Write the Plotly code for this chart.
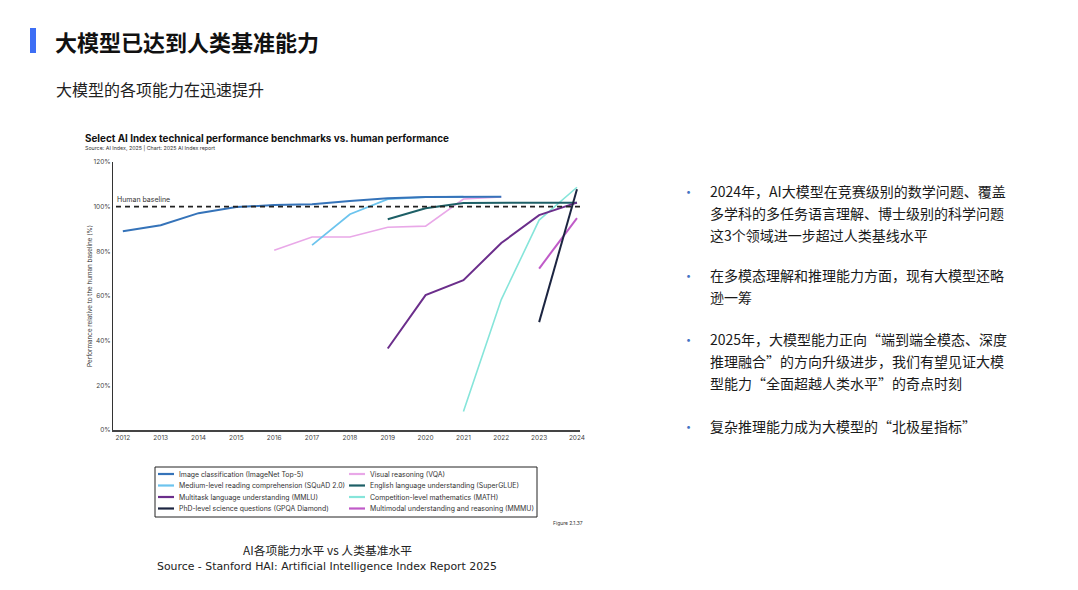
import plotly.graph_objects as go

# benchmark values (% of human baseline)
imagenet_x = [2012, 2013, 2014, 2015, 2016, 2017, 2018, 2019, 2020, 2021, 2022]
imagenet_y = [89.0, 91.7, 97.1, 99.8, 100.7, 101.1, 102.5, 103.8, 104.3, 104.4, 104.4]

squad_x = [2017, 2018, 2019, 2020, 2021]
squad_y = [82.8, 96.6, 103.4, 104.3, 104.5]

vqa_x = [2016, 2017, 2018, 2019, 2020, 2021, 2022]
vqa_y = [80.5, 86.4, 86.4, 90.8, 91.3, 103.4, 104.3]

superglue_x = [2019, 2020, 2021, 2022, 2023, 2024]
superglue_y = [94.4, 99.3, 101.6, 101.8, 101.8, 101.8]

mmlu_x = [2019, 2020, 2021, 2022, 2023, 2024]
mmlu_y = [36.5, 60.4, 67.1, 83.7, 96.2, 101.8]

math_x = [2021, 2022, 2023, 2024]
math_y = [8.3, 58.4, 94.0, 108.7]

gpqa_x = [2023, 2024]
gpqa_y = [48.3, 107.8]

mmmu_x = [2023, 2024]
mmmu_y = [72.3, 94.9]

human_baseline = 100
years = [2012, 2013, 2014, 2015, 2016, 2017, 2018, 2019, 2020, 2021, 2022, 2023, 2024]

series = [
    ("Image classification (ImageNet Top-5)", imagenet_x, imagenet_y, "#3573B9", 2),
    ("Medium-level reading comprehension (SQuAD 2.0)", squad_x, squad_y, "#6CC4EE", 1.8),
    ("Multitask language understanding (MMLU)", mmlu_x, mmlu_y, "#6B2E8B", 2),
    ("PhD-level science questions (GPQA Diamond)", gpqa_x, gpqa_y, "#1C2541", 2),
    ("Visual reasoning (VQA)", vqa_x, vqa_y, "#E9A8E8", 1.6),
    ("English language understanding (SuperGLUE)", superglue_x, superglue_y, "#1D5F66", 2),
    ("Competition-level mathematics (MATH)", math_x, math_y, "#86E5DA", 1.6),
    ("Multimodal understanding and reasoning (MMMU)", mmmu_x, mmmu_y, "#C05BC8", 2),
]

bullets = [
    ["2024年，AI大模型在竞赛级别的数学问题、覆盖",
     "多学科的多任务语言理解、博士级别的科学问题",
     "这3个领域进一步超过人类基线水平"],
    ["在多模态理解和推理能力方面，现有大模型还略",
     "逊一筹"],
    ["2025年，大模型能力正向“端到端全模态、深度",
     "推理融合”的方向升级进步，我们有望见证大模",
     "型能力“全面超越人类水平”的奇点时刻"],
    ["复杂推理能力成为大模型的“北极星指标”"],
]
bullet_top = [191, 275, 339, 426]

# page geometry (page pixels): plot area at x 113..580, y 162..430
# the html body adds an 8px margin, so everything is pulled back by OFF
OFF = 8
W, H = 1078, 590
L, T = 113 - OFF, 162 - OFF
R = W - (580 - OFF)
B = H - (430 - OFF)


def px(x):
    return (x - OFF - L) / (W - L - R)


def py(y):
    return (H - B - (y - OFF)) / (H - T - B)


CJK = "Noto Sans CJK SC"
LAT = "Inter"

fig = go.Figure()

# draw order so the darker lines sit on top
for idx in [4, 1, 0, 6, 5, 2, 7, 3]:
    name, xs, ys, col, w = series[idx]
    fig.add_trace(go.Scatter(x=xs, y=ys, mode="lines", name=name,
                             line=dict(color=col, width=w),
                             showlegend=False, hoverinfo="skip"))

shapes = []
annos = []

# human baseline
shapes.append(dict(type="line", xref="paper", yref="y", x0=px(116), x1=1, y0=human_baseline,
                   y1=human_baseline, line=dict(color="#222", width=1.6, dash="5px,4px")))
annos.append(dict(x=2011.8, y=human_baseline, xref="x", yref="y", text="Human baseline",
                  showarrow=False, xanchor="left", yanchor="bottom", yshift=1,
                  font=dict(family=LAT, size=7, color="#333")))

# slide header
shapes.append(dict(type="rect", xref="paper", yref="paper", x0=px(30), x1=px(36),
                   y0=py(53), y1=py(28), fillcolor="#3D6EF5", line_width=0))
annos.append(dict(x=px(53), y=py(41), text="<b>大模型已达到人类基准能力</b>",
                  font=dict(family=CJK, size=22, color="#111")))
annos.append(dict(x=px(54), y=py(89), text="大模型的各项能力在迅速提升",
                  font=dict(family=CJK, size=16, color="#222")))

# chart heading
annos.append(dict(x=px(83), y=py(138),
                  text="<b>Select AI Index technical performance benchmarks vs. human performance</b>",
                  font=dict(family=LAT, size=9.9, color="#111")))
annos.append(dict(x=px(83), y=py(148), text="Source: AI Index, 2025 | Chart: 2025 AI Index report",
                  font=dict(family=LAT, size=5.3, color="#333")))
annos.append(dict(x=px(90), y=py(296), text="Performance relative to the human baseline (%)",
                  textangle=-90, xanchor="center",
                  font=dict(family=LAT, size=6.3, color="#333")))
annos.append(dict(x=px(585), y=py(523), text="Figure 2.1.37", xanchor="right",
                  font=dict(family=LAT, size=5, color="#333")))

# legend box, drawn by hand for the tight row spacing
shapes.append(dict(type="rect", xref="paper", yref="paper", x0=px(155), x1=px(537),
                   y0=py(517), y1=py(467), line=dict(color="#222", width=1)))
row_y = [474, 485.5, 497, 508.5]
for i, (name, xs, ys, col, w) in enumerate(series):
    cx = 158 if i < 4 else 349
    ry = row_y[i % 4]
    shapes.append(dict(type="line", xref="paper", yref="paper", x0=px(cx), x1=px(cx + 16),
                       y0=py(ry), y1=py(ry), line=dict(color=col, width=2.2)))
    annos.append(dict(x=px(cx + 19), y=py(ry), text=name,
                      font=dict(family=LAT, size=6.9, color="#333")))

# captions under the chart
annos.append(dict(x=px(327), y=py(549), text="AI各项能力水平 vs 人类基准水平", xanchor="center",
                  font=dict(family=CJK, size=11.8, color="#222")))
annos.append(dict(x=px(327), y=py(566),
                  text="Source - Stanford HAI: Artificial Intelligence Index Report 2025",
                  xanchor="center", font=dict(family="DejaVu Sans", size=10.9, color="#222")))

# right-hand bullet text
for lines, top in zip(bullets, bullet_top):
    annos.append(dict(x=px(684), y=py(top), text="•",
                      font=dict(family=LAT, size=9, color="#4472C4")))
    for k, ln in enumerate(lines):
        annos.append(dict(x=px(708), y=py(top + 22 * k), text=ln,
                          font=dict(family=CJK, size=14, color="#1a1a1a")))

for a in annos:
    a.setdefault("xref", "paper")
    a.setdefault("yref", "paper")
    a.setdefault("showarrow", False)
    a.setdefault("xanchor", "left")
    a.setdefault("yanchor", "middle")

fig.update_layout(
    width=W, height=H,
    margin=dict(l=L, r=R, t=T, b=B),
    paper_bgcolor="white", plot_bgcolor="white",
    shapes=shapes, annotations=annos,
    showlegend=False,
    xaxis=dict(range=[2011.74, 2024.08], tickvals=years, showgrid=False, zeroline=False,
               showline=True, linecolor="#444", linewidth=1.5, ticks="",
               tickfont=dict(family=LAT, size=6.5, color="#444")),
    yaxis=dict(range=[0, 120], dtick=20, ticksuffix="%", showgrid=False, zeroline=False,
               showline=True, linecolor="#333", linewidth=1, ticks="",
               tickfont=dict(family=LAT, size=6.5, color="#444")),
)

fig.write_html("out.html")
